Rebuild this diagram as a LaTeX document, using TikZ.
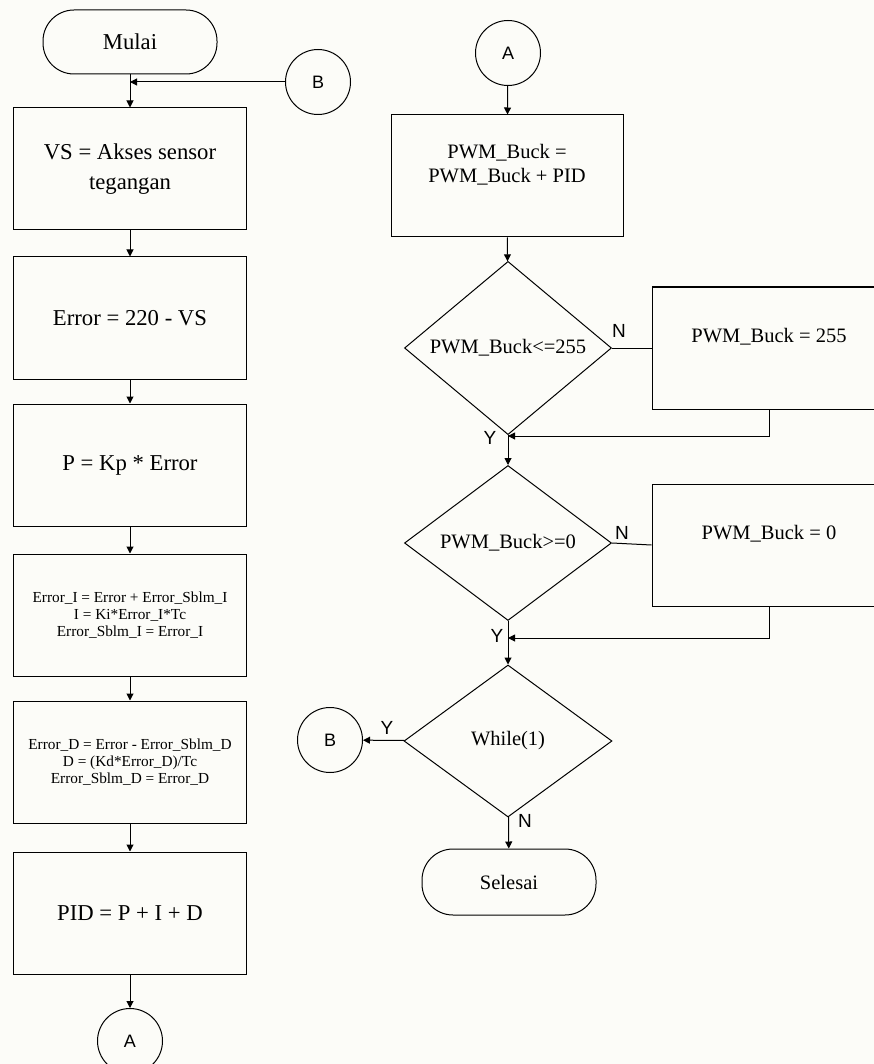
\documentclass[tikz,border=0pt]{standalone}
\usepackage{fontspec}
\setmainfont{Liberation Serif}
\newfontfamily\conFont{Liberation Sans}
\usetikzlibrary{shapes.geometric,arrows.meta}
\definecolor{paper}{RGB}{252,252,248}
\begin{document}
\begin{tikzpicture}[x=1pt,y=-1pt,line width=1pt,
    >={Triangle[length=7pt,width=7pt]},
    term/.style={draw,rounded corners=31pt,minimum width=174pt,minimum height=64pt},
    proc/.style={draw,minimum width=233pt,minimum height=122pt,align=center,
      font=\fontsize{22.7}{30}\selectfont},
    procsmall/.style={proc,font=\fontsize{15.3}{16.7}\selectfont},
    procup/.style={proc,text depth=26pt,font=\fontsize{20.5}{24}\selectfont},
    decision/.style={draw,diamond,inner sep=0pt,minimum width=207pt,minimum height=155pt,
      font=\fontsize{20.5}{24}\selectfont},
    con/.style={draw,circle,minimum size=65pt,inner sep=0pt,font=\conFont\fontsize{18}{20}\selectfont},
    yn/.style={inner sep=0pt,font=\conFont\fontsize{19}{21}\selectfont}]
  \useasboundingbox (0,0) rectangle (874,1064);
  \clip (0,0) rectangle (874,1064);
  \fill[paper] (0,0) rectangle (874,1064);
  \draw
    (130,42) node[term,font=\fontsize{22.7}{27}\selectfont] (mulai){Mulai}
    (318,82) node[con] (conB1){B}
    (130,169) node[proc] (vs){VS = Akses sensor\\tegangan}
    (130,318) node[proc] (err){Error = 220 - VS}
    (130,465) node[proc] (prop){P = Kp * Error}
    (130,615) node[procsmall] (integ){Error\_I = Error + Error\_Sblm\_I\\I = Ki*Error\_I*Tc\\Error\_Sblm\_I = Error\_I}
    (130,762) node[procsmall] (deriv){Error\_D = Error - Error\_Sblm\_D\\D = (Kd*Error\_D)/Tc\\Error\_Sblm\_D = Error\_D}
    (130,913) node[proc] (pid){PID = P + I + D}
    (130,1041) node[con] (conA1){A}
    (508,53) node[con] (conA2){A}
    (507,176) node[procup,minimum width=232pt] (buck){PWM\_Buck =\\PWM\_Buck + PID}
    (508,348) node[decision] (dec1){PWM\_Buck<=255}
    (769,348) node[procup,minimum width=234pt] (max){PWM\_Buck = 255}
    (508,543) node[decision] (dec2){PWM\_Buck>=0}
    (769,545) node[procup,minimum width=234pt] (min){PWM\_Buck = 0}
    (508,741) node[decision,minimum width=208pt,minimum height=152pt] (dec3){While(1)}
    (330,740) node[con] (conB2){B}
    (509,882) node[term,minimum height=66pt,font=\fontsize{20.5}{24}\selectfont] (selesai){Selesai};
  \coordinate (jB) at (mulai |- conB1);
  \coordinate (j1) at (508,436);
  \coordinate (j2) at (508,638);
  \node[yn] (n1) at (619,331) {N};
  \node[yn] (y1) at (490,438) {Y};
  \node[yn] (n2) at (622,533) {N};
  \node[yn] (y2) at (497,636) {Y};
  \node[yn] (y3) at (387,728) {Y};
  \node[yn] (n3) at (525,821) {N};
  \begin{scope}[->]
    \draw (mulai) to (vs);
    \draw (conB1) to (jB);
    \draw (vs) to (err);
    \draw (err) to (prop);
    \draw (prop) to (integ);
    \draw (integ) to (deriv);
    \draw (deriv) to (pid);
    \draw (pid) to (conA1);
    \draw (conA2) to (buck);
    \draw (buck) to (dec1);
    \draw (dec1) to (dec2);
    \draw (max.south) |- (j1);
    \draw (dec2) to (dec3);
    \draw (min.south) |- (j2);
    \draw (dec3) to (conB2);
    \draw (dec3) to (selesai);
  \end{scope}
  \begin{scope}[-]
    \draw (dec1.east) to (max.west);
    \draw (dec2.east) to (min.west);
  \end{scope}
\end{tikzpicture}
\end{document}
